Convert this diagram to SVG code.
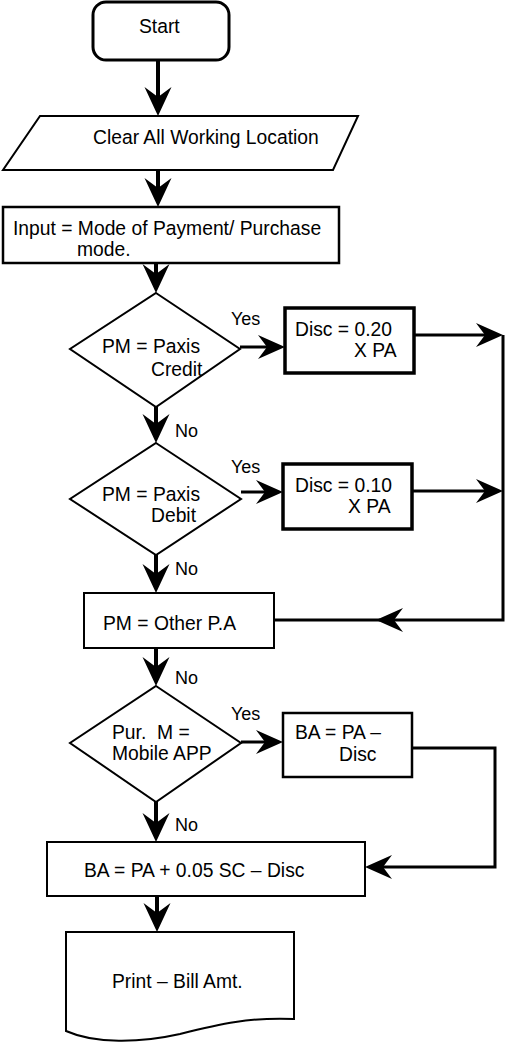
<svg xmlns="http://www.w3.org/2000/svg" width="508" height="1042" viewBox="0 0 508 1042">
<style>
  .shape { fill: #ffffff; stroke: #000000; stroke-width: 2; }
  .thick { fill: #ffffff; stroke: #000000; stroke-width: 3.5; }
  .t { font-family: "Liberation Sans", Arial, sans-serif; font-size: 19.3px; fill: #000000; }
  .lbl { font-family: "Liberation Sans", Arial, sans-serif; font-size: 18px; fill: #000000; }
  .v { fill: none; stroke: #000000; stroke-width: 4; }
  .h { fill: none; stroke: #000000; stroke-width: 3; }
</style>
<defs>
  <marker id="arr" markerUnits="userSpaceOnUse" viewBox="-30 -15 32 30" refX="-19" refY="0" markerWidth="32" markerHeight="30" orient="auto">
    <path d="M0,0 L-29,-13.5 L-19,0 L-29,13.5 Z" fill="#000000"/>
  </marker>
  <marker id="arrh" markerUnits="userSpaceOnUse" viewBox="-30 -15 32 30" refX="-18" refY="0" markerWidth="32" markerHeight="30" orient="auto">
    <path d="M0,0 L-27,-12 L-18,0 L-27,12 Z" fill="#000000"/>
  </marker>
</defs>
<rect width="508" height="1042" fill="#ffffff"/>

<g id="connectors">
  <path class="v" d="M158,60 V97" marker-end="url(#arr)"/>
  <path class="v" d="M158,170 V188" marker-end="url(#arr)"/>
  <path class="v" d="M156,263 V274" marker-end="url(#arr)"/>
  <path class="v" d="M156,407 V424" marker-end="url(#arr)"/>
  <path class="v" d="M156,555 V574" marker-end="url(#arr)"/>
  <path class="v" d="M156,648 V667" marker-end="url(#arr)"/>
  <path class="v" d="M156,802 V823" marker-end="url(#arr)"/>
  <path class="v" d="M157,896 V913" marker-end="url(#arr)"/>
  <path class="h" d="M240,347 H267" marker-end="url(#arrh)"/>
  <path class="h" d="M241,492 H265" marker-end="url(#arrh)"/>
  <path class="h" d="M241,742 H265" marker-end="url(#arrh)"/>
  <path class="h" d="M414,335 H485" marker-end="url(#arrh)"/>
  <path class="h" d="M412,491 H485" marker-end="url(#arrh)"/>
  <path class="h" d="M503,335 V620 H394" marker-end="url(#arrh)"/>
  <path class="h" d="M380,620 H274"/>
  <path class="h" d="M412,748 H495 V867 H383" marker-end="url(#arrh)"/>
  <text class="lbl" x="231" y="325">Yes</text>
  <text class="lbl" x="231" y="473">Yes</text>
  <text class="lbl" x="231" y="720">Yes</text>
  <text class="lbl" x="175" y="437">No</text>
  <text class="lbl" x="175" y="575">No</text>
  <text class="lbl" x="175" y="684">No</text>
  <text class="lbl" x="175" y="831">No</text>
</g>

<g id="start">
  <rect class="shape" x="93" y="2" width="136" height="58" rx="13" ry="13" style="stroke-width:3"/>
  <text class="t" x="139" y="33">Start</text>
</g>

<g id="clear">
  <polygon class="shape" points="40,116 358,116 333,170 3,170"/>
  <text class="t" x="93" y="144">Clear All Working Location</text>
</g>

<g id="input">
  <rect class="shape" x="3" y="207" width="336" height="56" style="stroke-width:2.5"/>
  <text class="t" x="13" y="235">Input = Mode of Payment/ Purchase</text>
  <text class="t" x="77" y="256">mode.</text>
</g>

<g id="decision-credit">
  <polygon class="shape" points="156,293 240,349 156,407 70,349"/>
  <text class="t" x="102" y="353">PM = Paxis</text>
  <text class="t" x="151" y="376">Credit</text>
</g>

<g id="disc-020">
  <rect class="thick" x="285" y="308" width="129" height="65"/>
  <text class="t" x="295" y="336">Disc = 0.20</text>
  <text class="t" x="354" y="357">X PA</text>
</g>

<g id="decision-debit">
  <polygon class="shape" points="156,443 241,499 156,555 70,499"/>
  <text class="t" x="102" y="501">PM = Paxis</text>
  <text class="t" x="151" y="522">Debit</text>
</g>

<g id="disc-010">
  <rect class="thick" x="283" y="464" width="129" height="65"/>
  <text class="t" x="295" y="492">Disc = 0.10</text>
  <text class="t" x="348" y="513">X PA</text>
</g>

<g id="other">
  <rect class="shape" x="84" y="593" width="190" height="55"/>
  <text class="t" x="103" y="630">PM = Other P.A</text>
</g>

<g id="decision-mobile">
  <polygon class="shape" points="156,686 241,743 156,802 70,743"/>
  <text class="t" x="112" y="739" xml:space="preserve">Pur.  M =</text>
  <text class="t" x="112" y="760">Mobile APP</text>
</g>

<g id="ba-mobile">
  <rect class="shape" x="283" y="713" width="129" height="64" style="stroke-width:2.5"/>
  <text class="t" x="295" y="739">BA = PA –</text>
  <text class="t" x="339" y="761">Disc</text>
</g>

<g id="ba-other">
  <rect class="shape" x="47" y="842" width="318" height="54"/>
  <text class="t" x="84" y="877">BA = PA + 0.05 SC – Disc</text>
</g>

<g id="print">
  <path class="shape" d="M66,932 H294 V1019 C250,1017 220,1024 180,1034 C140,1043 95,1044 66,1031 Z"/>
  <text class="t" x="112" y="988">Print – Bill Amt.</text>
</g>
</svg>
